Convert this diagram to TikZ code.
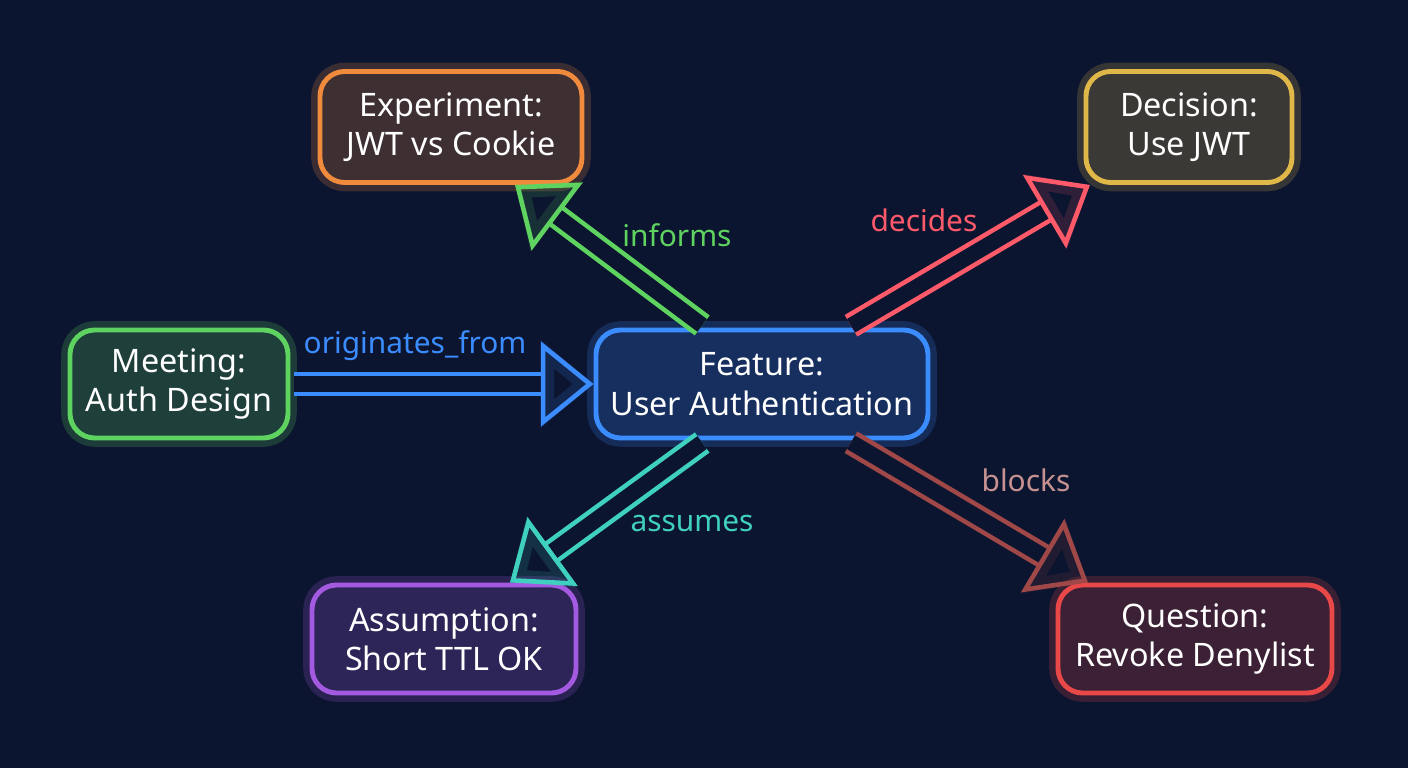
\documentclass[tikz,border=0pt]{standalone}
\usepackage{fontspec}
\setmainfont{Noto Sans}
\usetikzlibrary{arrows.meta, positioning}
\definecolor{bg}{HTML}{0C1530}
\definecolor{cgreen}{HTML}{5FD35F}
\definecolor{cblue}{HTML}{3B8CFF}
\definecolor{corange}{HTML}{F08A3C}
\definecolor{cyellow}{HTML}{E0B84A}
\definecolor{cpurple}{HTML}{A45AE0}
\definecolor{cred}{HTML}{E84848}
\definecolor{cteal}{HTML}{3FD0C0}
\definecolor{cpink}{HTML}{FF5A6A}
\definecolor{cdull}{HTML}{A04848}
\tikzset{
  box/.style={draw=#1, fill=#1!22!bg, line width=1.4pt, rounded corners=7pt,
    text=white, align=center, inner sep=0pt, minimum height=1.08cm,
    font=\fontsize{9.2}{11.2}\selectfont,
    preaction={draw=#1, line width=5pt, opacity=0.2}},
  link/.style={draw=#1, line width=1.3pt, double=bg, double distance=4.5pt,
    -{Triangle[open, length=15pt, width=24pt]}, shorten <=1pt,
    preaction={draw=#1, line width=7pt, opacity=0.15}},
  lbl/.style={text=#1, font=\fontsize{8.5}{10}\selectfont}
}
\begin{document}
\begin{tikzpicture}
  \fill[bg] (0,0) rectangle (14.08,7.68);
  \useasboundingbox (0,0) rectangle (14.08,7.68);
  \node[box=corange, minimum width=2.62cm, minimum height=1.11cm] (experiment) at (4.51,6.41) {Experiment:\\JWT vs Cookie};
  \node[box=cyellow, minimum width=2.06cm, minimum height=1.11cm] (decision) at (11.89,6.41) {Decision:\\Use JWT};
  \node[box=cgreen, minimum width=2.18cm] (meeting) at (1.79,3.84) {Meeting:\\Auth Design};
  \node[box=cblue, minimum width=3.32cm] (feature) at (7.62,3.84) {Feature:\\User Authentication};
  \node[box=cpurple, minimum width=2.64cm] (assumption) at (4.44,1.29) {Assumption:\\Short TTL OK};
  \node[box=cred, minimum width=2.74cm] (question) at (11.95,1.29) {Question:\\Revoke Denylist};

  \draw[link=cblue] (meeting.east) -- (feature.west);
  \draw[link=cgreen] ([xshift=-0.57cm]feature.north) -- ([xshift=0.64cm]experiment.south);
  \draw[link=cpink] ([xshift=0.86cm]feature.north) -- ([xshift=-0.99cm]decision.south);
  \draw[link=cteal] ([xshift=-0.57cm]feature.south) -- ([xshift=0.66cm]assumption.north);
  \draw[link=cdull] ([xshift=0.86cm]feature.south) -- ([xshift=-1.07cm]question.north);

  \node[lbl=cblue] (l1) at (4.15,4.22) {originates\_from};
  \node[lbl=cgreen] (l2) at (6.77,5.33) {informs};
  \node[lbl=cpink] (l3) at (9.24,5.48) {decides};
  \node[lbl=cteal] (l4) at (6.92,2.44) {assumes};
  \node[lbl=cdull!60!white] (l5) at (10.26,2.88) {blocks};
\end{tikzpicture}
\end{document}
